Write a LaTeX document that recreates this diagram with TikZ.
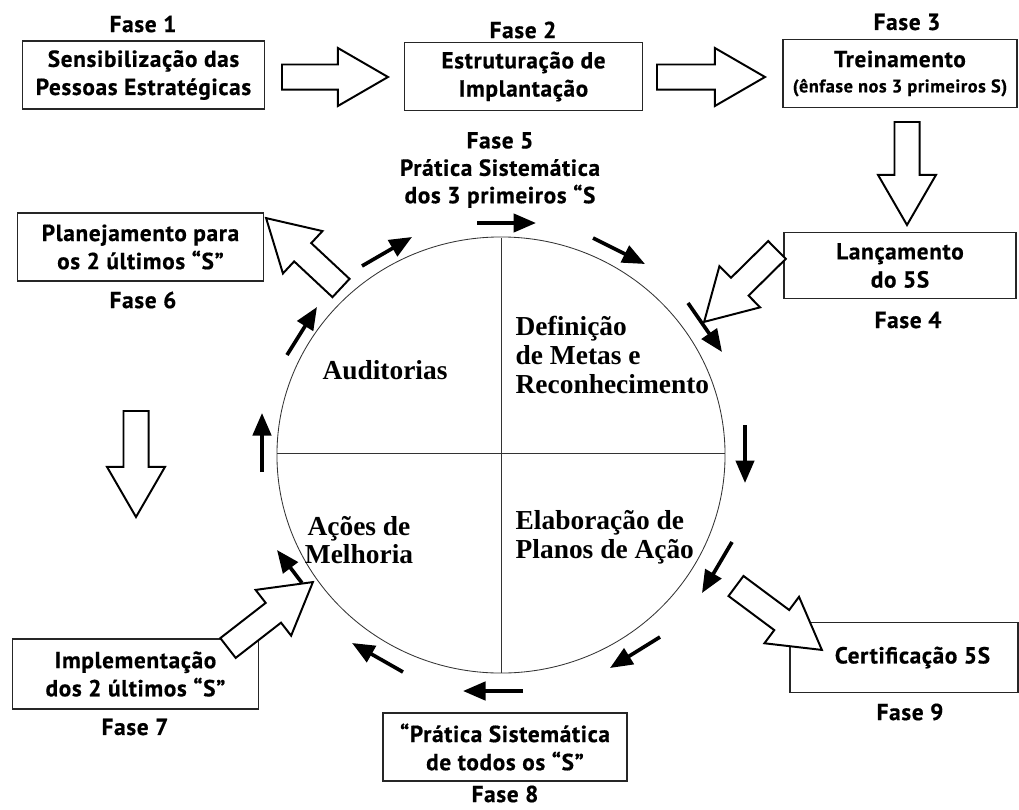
\documentclass[tikz,border=0pt]{standalone}
\usepackage{fontspec}
\setmainfont{Liberation Serif}
\newfontfamily\phasefont[BoldFeatures={FakeBold=0.6, LetterSpace=3}]{PT Sans}
\usetikzlibrary{calc, arrows.meta}

\tikzset{
  phasebox/.style={draw=black!85, line width=0.8pt, align=center, inner sep=0pt,
    font=\phasefont\bfseries\fontsize{16.5}{20}\selectfont},
  phaselabel/.style={align=center, inner sep=1pt,
    font=\phasefont\bfseries\fontsize{16.5}{19.5}\selectfont},
  quadtext/.style={inner sep=1pt, font=\bfseries\fontsize{19.5}{20.5}\selectfont},
  fatline/.style={draw=black, line width=1.4pt, line join=miter, fill=white},
  cycarrow/.style={line width=2.6pt, -{Triangle[length=16pt, width=13pt]}}
}

% hollow block arrow from #1 to #2
\newcommand{\fatarrow}[2]{%
  \draw[fatline] let \p1=($(#2)-(#1)$), \n1={atan2(\y1,\x1)}, \n2={veclen(\x1,\y1)},
    \n3={\n2-35.6} in [shift={(#1)}, rotate=\n1]
    (0pt,-8.9pt) -- ({\n3+0pt},-8.9pt) -- ({\n3+0pt},-20.6pt) -- ({\n2+0pt},0pt)
    -- ({\n3+0pt},20.6pt) -- ({\n3+0pt},8.9pt) -- (0pt,8.9pt) -- cycle;}

\begin{document}
\begin{tikzpicture}[x=0.025cm, y=-0.025cm]
\useasboundingbox[fill=white] (0,0) rectangle (1019,809);

% cycle
\draw[black!80, line width=0.6pt] (501,455) ellipse [x radius=5.6cm, y radius=5.45cm];
\draw[black!80, line width=0.6pt] (501,238) -- (501,673);
\draw[black!80, line width=0.6pt] (277,453) -- (725,453);

\node[quadtext, align=center] (aud) at (385,370) {Auditorias};
\node[quadtext, align=left, anchor=west] (metas) at (514,355) {Definição\\de Metas e\\Reconhecimento};
\node[quadtext, align=center] (acoes) at (359,540) {Ações de\\Melhoria};
\node[quadtext, align=left, anchor=west] (planos) at (514,537) {Elaboração de\\Planos de Ação};

\foreach \xa/\ya/\xb/\yb in {477/223/536/223, 593/238/645/264, 688/303/722/352,
    745/425/745/483, 732/542/702/593, 660/637/610/668,
    523/691/463/691, 403/672/352/643, 302/583/277/550,
    262/472/262/413, 287/355/317/307, 362/266/412/237}
  \draw[cycarrow] (\xa,\ya) -- (\xb,\yb);

% phases
\node[phasebox, minimum width=6.03cm, minimum height=1.70cm] (f1) at (143.5,75) {Sensibilização das\\Pessoas Estratégicas};
\node[phaselabel] (f1lab) at (143,24) {Fase 1};
\node[phasebox, minimum width=5.93cm, minimum height=1.68cm] (f2) at (523.5,76.5) {Estruturação de\\Implantação};
\node[phaselabel] (f2lab) at (523,30) {Fase 2};
\node[phasebox, minimum width=5.85cm, minimum height=1.68cm] (f3) at (900,73.5) {Treinamento\\[-2pt]{\fontsize{13}{15}\selectfont(ênfase nos 3 primeiros S)}};
\node[phaselabel] (f3lab) at (907,22) {Fase 3};
\node[phasebox, minimum width=5.80cm, minimum height=1.63cm] (f4) at (900,265.5) {Lançamento\\do 5S};
\node[phaselabel] (f4lab) at (908,320) {Fase 4};
\node[phaselabel] (f5lab) at (500,170) {Fase 5\\Prática Sistemática\\dos 3 primeiros “S};
\node[phasebox, minimum width=6.13cm, minimum height=1.70cm] (f6) at (140.5,247) {Planejamento para\\os 2 últimos “S”};
\node[phaselabel] (f6lab) at (143,300) {Fase 6};
\node[phasebox, minimum width=6.13cm, minimum height=1.75cm] (f7) at (135.5,674) {Implementação\\dos 2 últimos “S”};
\node[phaselabel] (f7lab) at (135,727) {Fase 7};
\node[phasebox, minimum width=6.10cm, minimum height=1.70cm] (f8) at (505,747) {“Prática Sistemática\\de todos os “S”};
\node[phaselabel] (f8lab) at (505,794) {Fase 8};
\node[phasebox, minimum width=5.70cm, minimum height=1.73cm] (f9) at (904,657.5) {\hspace*{12pt}Certificação 5S};
\node[phaselabel] (f9lab) at (910,712) {Fase 9};

% hollow arrows
\coordinate (a12s) at (282,77);  \coordinate (a12e) at (388,77);
\coordinate (a23s) at (657,77);  \coordinate (a23e) at (765,77);
\coordinate (a34s) at (907,122); \coordinate (a34e) at (907,225);
\coordinate (a4cs) at (777,250); \coordinate (a4ce) at (704,322);
\coordinate (ac6s) at (341,288); \coordinate (ac6e) at (266,218);
\coordinate (a67s) at (136,411); \coordinate (a67e) at (136,517);
\coordinate (a7cs) at (228,648); \coordinate (a7ce) at (313,582);
\coordinate (ac9s) at (736,586); \coordinate (ac9e) at (822,650);
\fatarrow{a12s}{a12e}
\fatarrow{a23s}{a23e}
\fatarrow{a34s}{a34e}
\fatarrow{a4cs}{a4ce}
\fatarrow{ac6s}{ac6e}
\fatarrow{a67s}{a67e}
\fatarrow{a7cs}{a7ce}
\fatarrow{ac9s}{ac9e}

\end{tikzpicture}
\end{document}
